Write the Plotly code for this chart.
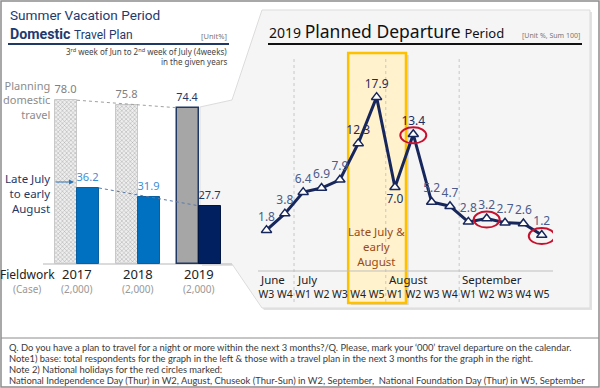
import plotly.graph_objects as go

W, H = 600, 388
def X(px): return px / W
def Y(py): return 1 - py / H

# ---------------- data ----------------
years = ["2017", "2018", "2019"]
cases = ["(2,000)", "(2,000)", "(2,000)"]
planning = [78.0, 75.8, 74.4]
late_july = [36.2, 31.9, 27.7]

months = ["June", "July", "August", "September"]
month_start = [0, 2, 7, 11]
weeks = ["W3", "W4", "W1", "W2", "W3", "W4", "W5", "W1", "W2", "W3", "W4",
         "W1", "W2", "W3", "W4", "W5"]
departure = [1.8, 3.8, 6.4, 6.9, 7.9, 12.3, 17.9, 7.0, 13.4, 5.2, 4.7,
             2.8, 3.2, 2.7, 2.6, 1.2]
holidays = [8, 12, 15]
peak = [5, 6, 7]

FONT = "Noto Sans"
TFONT = "Roboto"
NAVY = "#1f3864"
LINE = "#17275c"

fig = go.Figure()

# ---------------- left bar chart ----------------
bw = 0.36
xs = list(range(len(years)))
fig.add_trace(go.Bar(
    x=xs, y=planning, width=bw, offset=-bw, xaxis="x", yaxis="y",
    marker=dict(color=["#eeeeee", "#eeeeee", "#a6a6a6"],
                line=dict(color=["#c8c8c8", "#c8c8c8", NAVY], width=[1, 1, 1.5]),
                pattern=dict(shape=["x", "x", ""], fgcolor="#d4d4d4", size=3,
                             solidity=0.25, fillmode="overlay")),
    text=[f"{v:.1f}" for v in planning], textposition="outside",
    textfont=dict(color=["#7f7f7f", "#7f7f7f", NAVY], size=13, family=FONT),
    cliponaxis=False, showlegend=False, hoverinfo="skip"))
fig.add_trace(go.Bar(
    x=xs, y=late_july, width=bw, offset=0, xaxis="x", yaxis="y",
    marker=dict(color=["#0070c0", "#0070c0", "#002060"],
                line=dict(color=["#0a5fa0", "#0a5fa0", "#001540"], width=1)),
    text=[f"{v:.1f}" for v in late_july], textposition="outside",
    textfont=dict(color=["#3a8fd6", "#3a8fd6", NAVY], size=13, family=FONT),
    cliponaxis=False, showlegend=False, hoverinfo="skip"))
# dotted connectors between first and last year
fig.add_trace(go.Scatter(x=[0, 2 - bw], y=[planning[0], planning[-1]], mode="lines",
                         line=dict(color="#a0a0a0", width=1, dash="dot"),
                         xaxis="x", yaxis="y", showlegend=False, hoverinfo="skip"))
fig.add_trace(go.Scatter(x=[bw, 2], y=[late_july[0], late_july[-1]], mode="lines",
                         line=dict(color="#5a7aa8", width=1, dash="dot"),
                         xaxis="x", yaxis="y", showlegend=False, hoverinfo="skip"))

# ---------------- right line chart ----------------
dark_idx = {5, 6, 7, 8}
fig.add_trace(go.Scatter(
    x=list(range(len(departure))), y=departure, xaxis="x2", yaxis="y2",
    mode="lines+markers+text",
    line=dict(color=LINE, width=3),
    marker=dict(symbol="triangle-up", size=9, color="white",
                line=dict(color=LINE, width=1.5)),
    text=[f"{v:.1f}" for v in departure],
    textposition=["bottom center" if i == 7 else "top center" for i in range(len(departure))],
    textfont=dict(size=12, family=FONT,
                  color=["#1f2d5c" if i in dark_idx else "#4a5b8c" for i in range(len(departure))]),
    cliponaxis=False, showlegend=False, hoverinfo="skip"))

shapes = []
# outer frame & separator
shapes.append(dict(type="rect", xref="paper", yref="paper", x0=X(1), x1=X(599), y0=Y(387), y1=Y(1),
                   line=dict(color="#8c8c8c", width=1.5), layer="below"))
shapes.append(dict(type="line", xref="paper", yref="paper", x0=X(1), x1=X(599), y0=Y(338), y1=Y(338),
                   line=dict(color="#8c8c8c", width=1), layer="below"))

def path(pts):
    return "M " + " L ".join(f"{X(a):.5f},{Y(b):.5f}" for a, b in pts) + " Z"

panel = [(200, 107), (232, 100), (262, 10), (590, 10), (590, 308), (262, 308), (232, 264), (200, 264)]
shadow = [(a + 2, b + 2) for a, b in panel]
shapes.append(dict(type="path", xref="paper", yref="paper", path=path(shadow),
                   fillcolor="#e2e2e2", line=dict(width=0), layer="below"))
shapes.append(dict(type="path", xref="paper", yref="paper", path=path(panel),
                   fillcolor="#f5f5f5", line=dict(color="#dcdcdc", width=1), layer="below"))
# left baseline
shapes.append(dict(type="line", xref="paper", yref="paper", x0=X(43), x1=X(232), y0=Y(264), y1=Y(264),
                   line=dict(color="#cfcfcf", width=1.5), layer="below"))
# title rules
shapes.append(dict(type="line", xref="paper", yref="paper", x0=X(8), x1=X(229), y0=Y(44), y1=Y(44),
                   line=dict(color=NAVY, width=2), layer="below"))
shapes.append(dict(type="line", xref="paper", yref="paper", x0=X(268), x1=X(582), y0=Y(44), y1=Y(44),
                   line=dict(color="#111111", width=2), layer="below"))
# yellow highlight (shadow + box)
shapes.append(dict(type="rect", xref="x2", yref="paper", x0=peak[0] - 0.55 + 0.15, x1=peak[-1] + 0.6 + 0.15,
                   y0=Y(305), y1=Y(55), fillcolor="rgba(0,0,0,0.12)", line=dict(width=0), layer="below"))
shapes.append(dict(type="rect", xref="x2", yref="paper", x0=peak[0] - 0.55, x1=peak[-1] + 0.6,
                   y0=Y(303), y1=Y(53), fillcolor="#fff2cc", line=dict(color="#ffc000", width=2.5),
                   layer="below"))
# month separators
for ms in month_start[1:]:
    shapes.append(dict(type="line", xref="x2", yref="paper", x0=ms - 0.5, x1=ms - 0.5,
                       y0=Y(302), y1=Y(58), line=dict(color="#c8c8c8", width=1, dash="dot"),
                       layer="below"))
# axis line
shapes.append(dict(type="line", xref="paper", yref="paper", x0=X(258), x1=X(553), y0=Y(271), y1=Y(271),
                   line=dict(color="#bfbfbf", width=1), layer="below"))
# red holiday circles
for h in holidays:
    shapes.append(dict(type="circle", xref="x2", yref="y2", xsizemode="pixel", ysizemode="pixel",
                       xanchor=h, yanchor=departure[h], x0=-13, x1=13, y0=-9, y1=7,
                       line=dict(color="#c8102e", width=2), layer="above"))

ann = []
def A(text, x, y, size, color, xanchor="left", yanchor="middle", align="left", xref="paper",
      family=FONT, **kw):
    ann.append(dict(text=text, x=x, y=y, xref=xref, yref="paper", showarrow=False,
                    xanchor=xanchor, yanchor=yanchor, align=align,
                    font=dict(size=size, color=color, family=family), **kw))

# left titles
A("Summer Vacation Period", X(8), Y(15), 13.6, "#1f3a6e", family=TFONT)
A("<b>Domestic</b> <span style='font-size:12px'>Travel Plan</span>", X(8), Y(34), 14.2, "#1f3a6e",
  family=TFONT)
A("[Unit%]", X(229), Y(36), 7.5, "#777777", xanchor="right")
A("3<sup>rd</sup> week of Jun to 2<sup>nd</sup> week of July (4weeks)", X(229), Y(52), 8, "#444444", xanchor="right")
A("in the given years", X(229), Y(62), 8, "#444444", xanchor="right")
A("Planning<br>domestic<br>travel", X(52), Y(100), 11, "#8c8c8c", xanchor="right", align="right")
A("Late July<br>to early<br>August", X(52), Y(193), 11.5, NAVY, xanchor="right", align="right")
ann.append(dict(x=X(74), y=Y(182), xref="paper", yref="paper", ax=-20, ay=0, text="",
                showarrow=True, arrowhead=2, arrowsize=1, arrowwidth=1, arrowcolor="#2e75b6"))
A("Fieldwork", X(27), Y(274), 12, "#222222", xanchor="center")
A("(Case)", X(27), Y(289), 10, "#999999", xanchor="center")
for i, (yr, cs) in enumerate(zip(years, cases)):
    ann.append(dict(text=yr, x=i, y=Y(274), xref="x", yref="paper", showarrow=False,
                    xanchor="center", yanchor="middle", font=dict(size=13, color="#222222", family=FONT)))
    ann.append(dict(text=cs, x=i, y=Y(289), xref="x", yref="paper", showarrow=False,
                    xanchor="center", yanchor="middle", font=dict(size=10, color="#999999", family=FONT)))

# right titles
A("2019 <span style='font-size:17.5px'>Planned Departure</span> <span style='font-size:13px'>Period</span>",
  X(267), Y(31), 14, "#111111")
A("[Unit %, Sum 100]", X(582), Y(35), 7, "#777777", xanchor="right")
A("Late July &amp;<br>early<br>August", peak[1], Y(247), 11.5, "#9a4a14", xanchor="center", align="center", xref="x2")
for m, ms in zip(months, month_start):
    ann.append(dict(text=m, x=ms - 0.45, y=Y(279), xref="x2", yref="paper", showarrow=False,
                    xanchor="left", yanchor="middle", font=dict(size=11.5, color="#222222", family=FONT)))

# notes
notes = [
    "Q. Do you have a plan to travel for a night or more within the next 3 months?/Q. Please, mark your \u2018000\u2019 travel departure on the calendar.",
    "Note1) base: total respondents for the graph in the left &amp; those with a travel plan in the next 3 months for the graph in the right.",
    "Note 2) National holidays for the red circles marked:",
    "National Independence Day (Thur) in W2, August, Chuseok (Thur-Sun) in W2, September,  National Foundation Day (Thur) in W5, September",
]
for i, t in enumerate(notes):
    ann.append(dict(text=t, x=X(7), y=Y(347 + 11.3 * i), xref="paper", yref="paper", showarrow=False,
                    xanchor="left", yanchor="middle", font=dict(size=9.4, color="#3a3a3a", family="Lato")))

fig.update_layout(
    width=W, height=H, margin=dict(l=0, r=0, t=0, b=0),
    paper_bgcolor="white", plot_bgcolor="rgba(0,0,0,0)",
    font=dict(family=FONT),
    xaxis=dict(domain=[X(37), X(240)], range=[(37 - 77) / 61, (240 - 77) / 61],
               visible=False, fixedrange=True),
    yaxis=dict(domain=[Y(264), Y(64)], range=[0, 200 / 2.1], visible=False, fixedrange=True),
    xaxis2=dict(domain=[X(258), X(553)], range=[(258 - 266.5) / 18.35, (553 - 266.5) / 18.35],
                tickmode="array", tickvals=list(range(len(weeks))), ticktext=weeks,
                tickfont=dict(size=10.5, color="#222222", family=FONT), tickangle=0,
                showgrid=False, zeroline=False, showline=False, ticks="",
                ticklabelstandoff=15, anchor="y2", fixedrange=True),
    yaxis2=dict(domain=[Y(271), Y(55)], range=[(245 - 271) / 8.26, (245 - 55) / 8.26],
                visible=False, anchor="x2", fixedrange=True),
    shapes=shapes, annotations=ann, bargap=0,
)

fig.write_html("out.html", config={"displayModeBar": False},
               post_script="document.body.style.margin='0px';")
